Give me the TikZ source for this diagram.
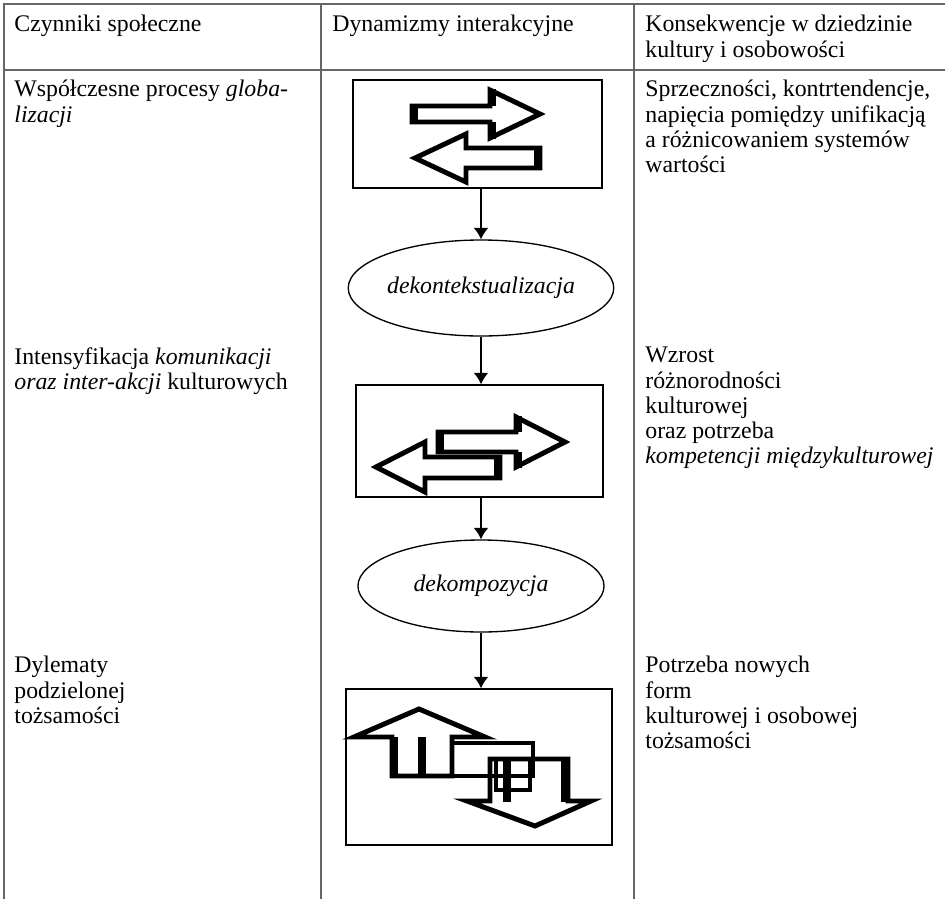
\documentclass[tikz,border=0pt]{standalone}
\usepackage{fontspec}
\setmainfont{Liberation Serif}
\usetikzlibrary{shapes.geometric, arrows.meta}

\begin{document}
\begin{tikzpicture}[x=0.525pt, y=-0.525pt, >={Latex[length=6pt, width=8pt]},
  rule/.style={draw=black!60, line width=0.9pt},
  cell/.style={anchor=north west, align=left, inner sep=0pt, font=\fontsize{12.5}{13.2}\selectfont},
  frame/.style={draw, line width=0.7pt, inner sep=0pt},
  stage/.style={draw, ellipse, line width=0.7pt, inner sep=0pt, font=\fontsize{12.5}{13.2}\selectfont\itshape},
  flow/.style={->, line width=1.5pt},
  block/.style={draw, line width=2.6pt, line join=miter},
  bar/.style={draw, line width=4.4pt}]
  \useasboundingbox (0,0) rectangle (945,899);

  % Table rules: the header row, then three columns running to the bottom.
  \draw[rule] (3,4) -- (945,4);
  \draw[rule] (3,70) -- (945,70);
  \foreach \x in {4,321,634}
    \draw[rule] (\x,4) -- (\x,899);

  % Column texts
  \node[cell] (factors) at (14,15) {Czynniki społeczne};
  \node[cell] (dynamics) at (332,15) {Dynamizmy interakcyjne};
  \node[cell] (effects) at (645,15) {Konsekwencje w dziedzinie\\kultury i osobowości};

  \node[cell] (globalization) at (14,80) {Współczesne procesy \textit{globa-}\\\textit{lizacji}};
  \node[cell] (communication) at (14,347) {Intensyfikacja \textit{komunikacji}\\\textit{oraz inter-akcji} kulturowych};
  \node[cell] (dilemmas) at (14,656) {Dylematy\\podzielonej\\tożsamości};

  \node[cell] (tensions) at (645,80) {Sprzeczności, kontrtendencje,\\napięcia pomiędzy unifikacją\\a różnicowaniem systemów\\wartości};
  \node[cell] (diversity) at (645,347) {Wzrost\\różnorodności\\kulturowej\\oraz potrzeba\\\textit{kompetencji międzykulturowej}};
  \node[cell] (identity) at (645,656) {Potrzeba nowych\\form\\kulturowej i osobowej\\tożsamości};

  % Middle column: frames and ellipses one under the other.
  \node[frame, minimum width=130.7pt, minimum height=56.7pt] (globalbox) at (477.5,134) {};
  \node[stage, minimum width=130.2pt, minimum height=50.4pt] (dekont) at (481,288) {dekontekstualizacja};
  \node[frame, minimum width=129.7pt, minimum height=58.8pt] (commbox) at (479.5,441) {};
  \node[stage, minimum width=129.2pt, minimum height=48.3pt] (dekomp) at (481,586) {dekompozycja};
  \node[frame, minimum width=139.7pt, minimum height=81.9pt] (identbox) at (479,767) {};

  \draw[flow] (globalbox.south -| dekont.north) -- (dekont.north);
  \draw[flow] (dekont.south) -- (dekont.south |- commbox.north);
  \draw[flow] (commbox.south -| dekomp.north) -- (dekomp.north);
  \draw[flow] (dekomp.south) -- (dekomp.south |- identbox.north);

  % Block arrows in the first frame
  \draw[block] (412,106) -- (490,106) -- (490,90) -- (540,114) -- (490,138) -- (490,122) -- (412,122) -- cycle;
  \draw[block] (415,158) -- (466,134) -- (466,148) -- (540,148) -- (540,168) -- (466,168) -- (466,182) -- cycle;
  \draw[bar] (414,105) -- (414,123);
  \draw[bar] (492,89) -- (492,106) (492,122) -- (492,139);
  \draw[bar] (538,147) -- (538,169);

  % Block arrows in the second frame
  \draw[block] (438,432) -- (516,432) -- (516,417) -- (565,442) -- (516,467) -- (516,452) -- (438,452) -- cycle;
  \draw[block] (376,467) -- (425,442) -- (425,457) -- (500,457) -- (500,478) -- (425,478) -- (425,492) -- cycle;
  \draw[bar] (440,431) -- (440,453);
  \draw[bar] (518,416) -- (518,432) (518,452) -- (518,468);
  \draw[bar] (498,456) -- (498,479);

  % Up and down arrows in the third frame
  \draw[block] (419,709) -- (485,737) -- (452,737) -- (452,776) -- (392,776) -- (392,737) -- (354,737) -- cycle;
  \draw[block] (452,743) rectangle (533,776);
  \draw[block] (490,759) -- (568,759) -- (568,801) -- (591,801) -- (535,826) -- (467,801) -- (490,801) -- cycle;
  \draw[block] (496,759) rectangle (530,790);
  \draw[bar] (394,737) -- (394,777);
  \draw[bar] (422,737) -- (422,777);
  \draw[bar] (507,758) -- (507,802);
  \draw[bar] (565,758) -- (565,802);
\end{tikzpicture}
\end{document}
